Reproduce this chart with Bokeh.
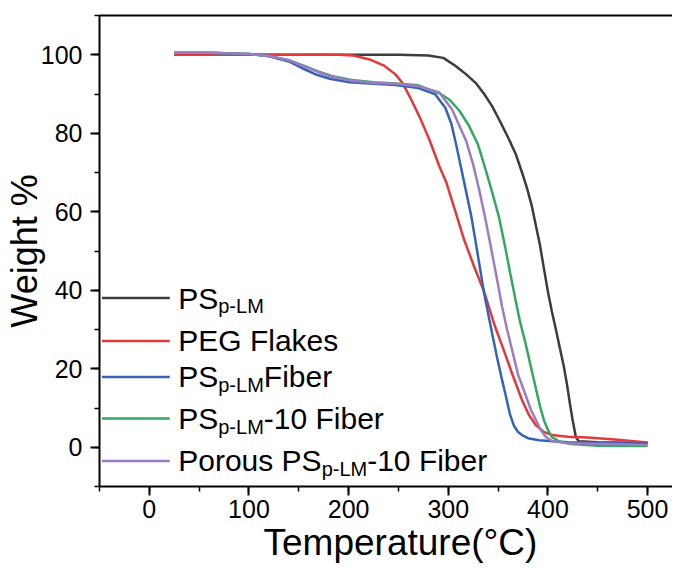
from bokeh.plotting import figure
from bokeh.models import Range1d, SingleIntervalTicker, LinearAxis, Label, FixedTicker, Title
from bokeh.embed import file_html
from bokeh.resources import INLINE

# ---------------- data ----------------
t_ps = [25, 150, 250, 280, 295, 307, 318, 328, 336, 344, 352, 361, 368, 374, 379, 384,
        388, 392, 396, 400, 404, 408, 412, 416, 419, 422, 425, 428, 431, 450, 500]
w_ps = [100, 100, 100, 99.8, 99.2, 97.2, 95.0, 92.7, 90.0, 86.9, 83.0, 78.4, 74.5, 70.0, 66.0, 61.3,
        56.4, 51.5, 45.5, 39.6, 34.5, 30.0, 25.2, 20.5, 16.2, 11.2, 6.6, 2.6, 1.5, 1.3, 1.1]

t_peg = [25, 100, 190, 205, 221, 235, 247, 254, 262, 271, 281, 291, 298, 306, 316, 326, 336,
         347, 356, 364, 374, 381, 388, 396, 404, 420, 440, 470, 500]
w_peg = [100, 100, 100, 99.8, 98.8, 97.3, 95.0, 92.8, 89.0, 84.3, 78.4, 71.6, 67.5, 61.0, 52.8, 46.0, 39.6,
         30.7, 24.5, 18.8, 12.0, 8.2, 5.6, 3.9, 3.1, 2.7, 2.5, 1.9, 1.2]

t_fib = [25, 60, 100, 120, 140, 154, 168, 181, 201, 225, 247, 270, 287, 297, 303, 308, 313, 318,
         323, 328, 336, 344, 349, 354, 358, 362, 366, 370, 374, 380, 391, 420, 460, 500]
w_fib = [100.5, 100.5, 100.2, 99.6, 98.3, 96.5, 94.9, 93.9, 93.0, 92.6, 92.3, 91.5, 89.9, 86.5, 82.5, 77.0, 71.0, 65.0,
         59.0, 51.5, 39.2, 29.0, 22.8, 17.1, 12.8, 8.3, 5.4, 3.9, 3.1, 2.3, 1.8, 1.3, 1.1, 0.9]

t_f10 = [25, 60, 100, 120, 140, 156, 170, 183, 203, 225, 247, 270, 281, 291, 301, 311, 321, 330,
         337.5, 344, 351, 357.5, 362, 367.5, 372, 377.5, 382, 387.5, 392, 396, 400, 404, 412, 424, 450, 500]
w_f10 = [100.5, 100.5, 100.2, 99.7, 98.6, 97.1, 95.7, 94.6, 93.6, 93.0, 92.7, 92.2, 91.1, 90.2, 88.6, 85.8, 81.8, 77.0,
         70.7, 65.0, 58.5, 50.5, 44.5, 37.5, 32.0, 26.5, 21.5, 15.4, 10.5, 6.9, 4.4, 2.6, 1.4, 0.8, 0.4, 0.3]

t_por = [25, 60, 100, 120, 140, 156, 170, 183, 203, 225, 247, 270, 291, 304, 311, 318, 325, 331,
         337, 342, 348, 354, 359, 364, 370, 377, 383, 388, 393, 398, 405, 420, 460, 500]
w_por = [100.5, 100.5, 100.2, 99.7, 98.6, 97.0, 95.5, 94.4, 93.4, 92.8, 92.6, 92.0, 90.4, 86.0, 82.0, 78.0, 72.0, 65.6,
         58.5, 52.0, 44.0, 35.8, 30.0, 24.8, 18.5, 13.7, 9.5, 6.9, 4.3, 2.6, 1.5, 1.0, 0.8, 0.6]

colors = ["#3c3c3c", "#e5383b", "#3563b5", "#32a862", "#9c7cc4"]
series = [(t_ps, w_ps), (t_peg, w_peg), (t_fib, w_fib), (t_f10, w_f10), (t_por, w_por)]
# legend: pieces (text, is_subscript)
legend_rows = [
    [("PS", False), ("p-LM", True)],
    [("PEG Flakes", False)],
    [("PS", False), ("p-LM", True), ("Fiber", False)],
    [("PS", False), ("p-LM", True), ("-10 Fiber", False)],
    [("Porous PS", False), ("p-LM", True), ("-10 Fiber", False)],
]
legend_y = [38.0, 27.1, 17.9, 7.3, -3.5]
x_title = "Temperature(°C)"
y_title = "Weight %"

FONT = "Liberation Sans"
MAIN = 30
SUB = 20

# Arial / Liberation Sans advance widths (per 1000 em)
AW = {"P": 667, "S": 667, "E": 667, "G": 778, "F": 611, "L": 556, "M": 833, " ": 278,
      "o": 556, "r": 333, "u": 556, "s": 500, "p": 556, "-": 333, "1": 556, "0": 556,
      "i": 222, "b": 556, "e": 556, "l": 222, "a": 556, "k": 500}


def text_w(s, size):
    return sum(AW.get(c, 556) for c in s) * size / 1000.0


p = figure(width=672, height=566, output_backend="svg", toolbar_location=None,
           x_range=Range1d(-50, 525), y_range=Range1d(-10, 110),
           min_border_left=97, min_border_right=0, min_border_top=15, min_border_bottom=80)
p.outline_line_color = None
p.grid.visible = False
p.background_fill_color = "white"
p.border_fill_color = "white"

p.xaxis.ticker = SingleIntervalTicker(interval=100, num_minor_ticks=2)
p.yaxis.ticker = SingleIntervalTicker(interval=20, num_minor_ticks=2)

for ax in (p.xaxis[0], p.yaxis[0]):
    ax.axis_line_width = 2
    ax.axis_line_color = "black"
    ax.major_tick_in = 0
    ax.major_tick_out = 9
    ax.minor_tick_in = 0
    ax.minor_tick_out = 5
    ax.major_tick_line_width = 2
    ax.minor_tick_line_width = 1.5
    ax.major_tick_line_color = "black"
    ax.minor_tick_line_color = "black"
    ax.major_label_text_font = FONT
    ax.major_label_text_color = "black"
    ax.axis_label_text_font = FONT
    ax.axis_label_text_font_style = "normal"
    ax.axis_label_text_color = "black"

p.xaxis.major_label_text_font_size = "25px"
p.yaxis.major_label_text_font_size = "25px"
p.xaxis.major_label_standoff = 4
p.yaxis.major_label_standoff = 8
p.yaxis.axis_label = y_title
p.yaxis.axis_label_text_font_size = "36px"
p.yaxis.axis_label_standoff = -7

top = LinearAxis(ticker=FixedTicker(ticks=[]), major_label_text_font_size="0px",
                 major_label_standoff=0, axis_line_width=2, axis_line_color="black",
                 major_tick_out=0, major_tick_in=0, minor_tick_out=0, minor_tick_in=0)
p.add_layout(top, "above")

# x-axis title as a Title below, placed like the reference
p.add_layout(Title(text=x_title, align="left", offset=164, standoff=-2,
                   text_font=FONT, text_font_size="37px", text_font_style="normal",
                   text_color="black"), "below")

for (t, w), c in zip(series, colors):
    p.line(t, w, line_color=c, line_width=2.5)

# manual legend (to allow subscripts)
LX0, LX1, TX = -47.5, 20.5, 29
for row, y, c in zip(legend_rows, legend_y, colors):
    p.line([LX0, LX1], [y, y], line_color=c, line_width=2.5)
    off = 0.0
    for txt, sub in row:
        size = SUB if sub else MAIN
        p.add_layout(Label(x=TX, y=y, x_offset=off, y_offset=-8 if sub else 0,
                           text=txt, text_font=FONT, text_font_size=f"{size}px",
                           text_color="black", text_baseline="alphabetic", text_align="left"))
        off += text_w(txt, size)

open("out.html", "w").write(file_html(p, INLINE))
